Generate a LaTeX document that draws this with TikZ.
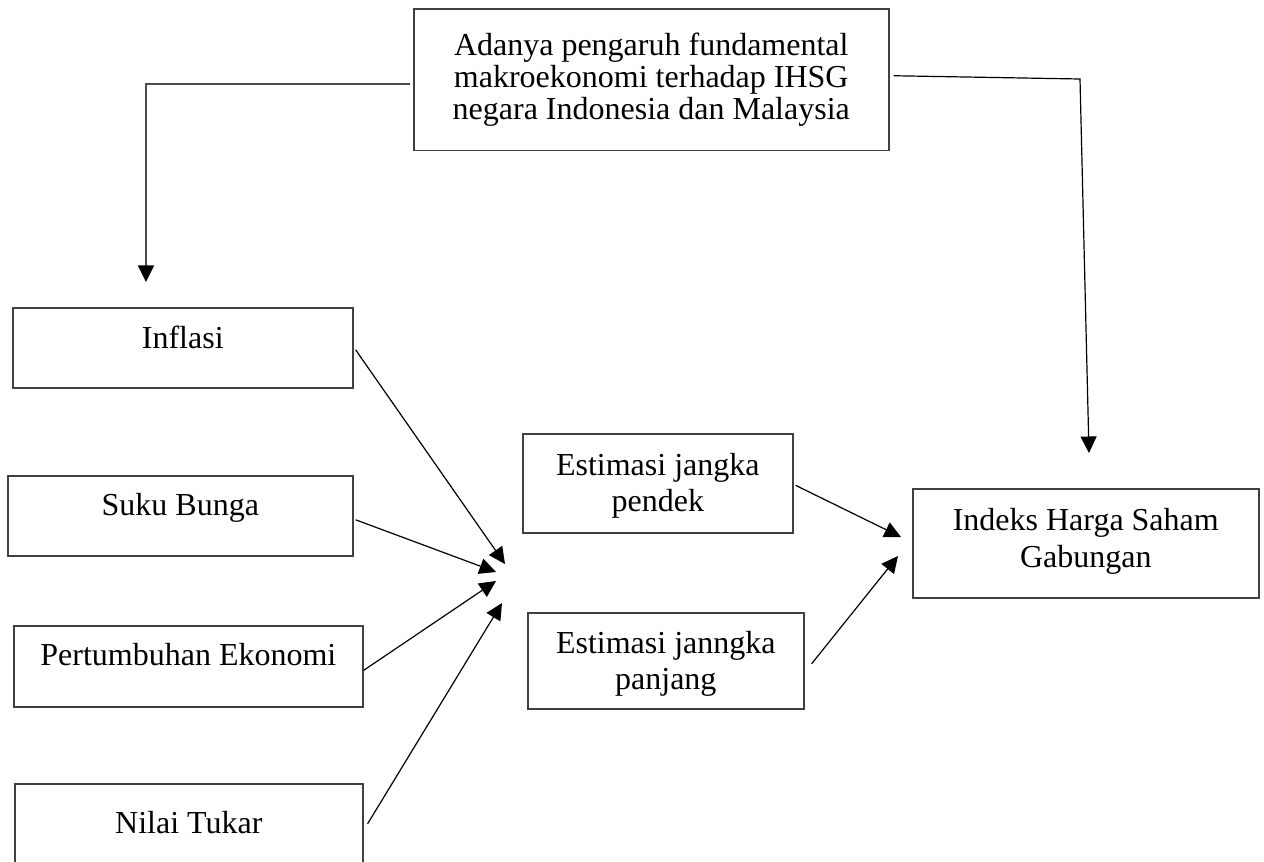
\documentclass[tikz,border=0pt]{standalone}
\usepackage{fontspec}
\setmainfont{Liberation Serif}
\usetikzlibrary{arrows.meta}

\begin{document}
\begin{tikzpicture}[x=0.375pt, y=-0.375pt, >={Triangle[length=6.2pt,width=6pt]},
  box/.style={draw=black!75,line width=0.6pt,anchor=north west,inner sep=0pt,align=center,font=\fontsize{12}{13.8}\selectfont},
  conn/.style={->,line width=0.45pt}]
  \useasboundingbox (0,0) rectangle (1264,861);
  % top box
  \node[box, minimum width=178.1pt, text height=41.5pt, text depth=11.7pt, font=\fontsize{12}{12}\selectfont] (goal) at (413,8) {Adanya pengaruh fundamental\\makroekonomi terhadap IHSG\\negara Indonesia dan Malaysia};
  % variabel makro
  \node[box, minimum width=127.5pt, text height=15.4pt, text depth=14.6pt] (infl) at (12,307) {Inflasi};
  \node[box, minimum width=129.4pt, text height=15pt, text depth=15pt] (suku) at (7,475) {Suku Bunga};
  \node[box, minimum width=130.9pt, text height=15pt, text depth=15.4pt] (tumbuh) at (13,625) {Pertumbuhan Ekonomi};
  \node[box, minimum width=130.5pt, text height=18.75pt, text depth=15pt] (kurs) at (14,783) {Nilai Tukar};
  % estimasi
  \node[box, minimum width=101.25pt, text height=29.25pt, text depth=7.9pt] (pendek) at (522,433) {Estimasi jangka\\pendek};
  \node[box, minimum width=103.5pt, text height=28.9pt, text depth=7.1pt] (panjang) at (527,612) {Estimasi janngka\\panjang};
  \node[box, minimum width=129.75pt, text height=29.6pt, text depth=11.25pt] (ihsg) at (912,488) {Indeks Harga Saham\\Gabungan};
  % free ends
  \coordinate (tipL) at (146,282);
  \coordinate (bendR) at (1080,79);
  \coordinate (tipR) at (1089,453);
  \coordinate (tipA) at (505,564);
  \coordinate (tipB) at (496,572);
  \coordinate (tipC) at (496,581);
  \coordinate (tipD) at (502,603);
  \coordinate (tipE) at (901,537);
  \coordinate (tipF) at (898,556);
  \draw[conn, draw=black!70, line width=0.6pt, -{Triangle[length=6.2pt,width=6pt,black]}] ([shift={(-3,4)}]goal.west) -| (tipL);
  \draw[conn] ([shift={(4,-4)}]goal.east) -- (bendR) -- (tipR);
  \draw[conn] ([shift={(2,2)}]infl.east) -- (tipA);
  \draw[conn] ([shift={(2,4)}]suku.east) -- (tipB);
  \draw[conn] ([shift={(0,4)}]tumbuh.east) -- (tipC);
  \draw[conn] ([shift={(4,-5)}]kurs.east) -- (tipD);
  \draw[conn] ([shift={(2,2)}]pendek.east) -- (tipE);
  \draw[conn] ([shift={(7,3)}]panjang.east) -- (tipF);
\end{tikzpicture}
\end{document}
